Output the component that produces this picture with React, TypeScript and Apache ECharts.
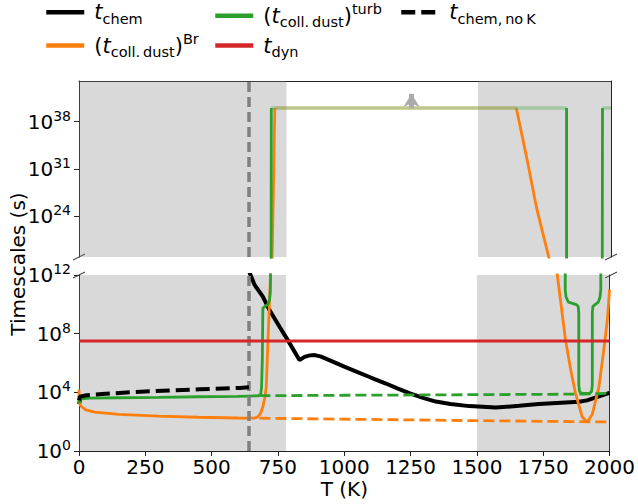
import React, { useEffect, useRef } from 'react';
import * as echarts from 'echarts';

// ---- data (log10 of timescale in seconds vs temperature T in K) ----
const X_MIN = 0;
const X_MAX = 2000;
const X_INTERVAL = 250;
const TOP_RANGE = [18, 44];
const TOP_TICKS = [24, 31, 38];
const BOTTOM_RANGE = [0, 12];
const BOTTOM_INTERVAL = 4;

const SHADE_REGIONS = [[0, 780], [1500, 2000]];
const CONDENSATION_T = 640;
const ARROW_T = 1250;
const ARROW_FROM = 40;
const ARROW_TO = 42.1;

const T_CHEM: (number | string)[][] = [
  [0, 3.2], [5, 3.6], [12, 3.72], [300, '-'],
  [640, 12.3], [662, 11.32], [693, 10.52], [718, 9.61], [756, 8.47], [787, 7.56],
  [831, 6.2], [850, 6.42], [870, 6.52], [888, 6.54], [910, 6.45], [950, 6.15],
  [1000, 5.75], [1050, 5.38], [1100, 5.01], [1157, 4.6], [1200, 4.27], [1245, 3.95],
  [1300, 3.6], [1345, 3.37], [1400, 3.2], [1471, 3.06], [1571, 2.96], [1659, 3.08],
  [1734, 3.2], [1885, 3.36], [1915, 3.45], [1960, 3.72], [2000, 3.96],
];

const T_CHEM_NOK: number[][] = [
  [0, 3.45], [3, 3.7], [29, 3.8], [100, 3.9], [203, 4.02], [455, 4.21], [606, 4.3], [641, 4.34],
];

const T_COLL_BR: (number | string)[][] = [
  [0, 4.2], [0.5, 3.3], [8, 3.05], [25, 2.8], [60, 2.65], [150, 2.5], [300, 2.38],
  [450, 2.3], [600, 2.25], [660, 2.24], [674, 2.32], [684, 2.55], [693, 3.0], [700, 3.6],
  [706, 4.37], [712, 7.34], [718, 10.07], [722, 12], [726, 18], [732, 30], [736, 40],
  [1000, '-'],
  [1644, 40], [1684, 32.5], [1721, 25.1], [1766, 18], [1803, 12], [1834, 7.56],
  [1855, 5.4], [1872, 3.92], [1897, 2.32], [1916, 1.98], [1935, 2.5], [1960, 4.37],
  [1979, 7.0], [1992, 9.0], [2000, 11.0],
];

const T_COLL_BR_CAP: (number | string)[][] = [[736, 40], [1644, 40]];

const T_COLL_TURB: (number | string)[][] = [
  [0, 3.24], [3, 3.45], [10, 3.55], [40, 3.6], [150, 3.63], [300, 3.66], [450, 3.7],
  [600, 3.73], [674, 3.76], [685, 3.85], [688, 4.3], [691, 6.2], [693, 9.73], [700, 9.84],
  [712, 10.0], [718, 10.3], [721, 10.8], [722, 12], [723, 40],
  [1000, '-'],
  [1833, 40], [1833, 11.0], [1836, 10.5], [1845, 10.15], [1875, 9.98], [1882, 9.85],
  [1884, 9.4], [1884, 4.5], [1887, 4.05], [1895, 3.93], [1925, 3.93], [1932, 4.05],
  [1935, 4.5], [1935, 9.4], [1937, 9.85], [1945, 9.98], [1958, 10.15], [1964, 10.5],
  [1967, 11.0], [1968, 40],
];

const T_COLL_TURB_CAP: (number | string)[][] = [[723, 40], [1833, 40], [1900, '-'], [1968, 40], [2000, 40]];

const T_COLL_TURB_DASHED: number[][] = [[680, 3.77], [1000, 3.8], [1500, 3.84], [1900, 3.88], [2000, 3.93]];
const T_COLL_BR_DASHED: number[][] = [[680, 2.24], [900, 2.19], [1500, 2.07], [2000, 1.98]];

const T_DYN: number[][] = [[0, 7.5], [2000, 7.5]];

// ---- styling ----
const FONT = 'DejaVu Sans';
const BLACK = '#000000';
const ORANGE = '#ff7f0e';
const GREEN = '#2ca02c';
const RED = '#d62728';

const LEGEND_LABELS: Record<string, string> = {
  chem: '{tt|t}{sub|chem}',
  br: '{pp|(}{t|t}{sub|coll.\u2009dust}{p|)}{sup|Br}',
  turb: '{pp|(}{t|t}{sub|coll.\u2009dust}{p|)}{sup|turb}',
  dyn: '{tt|t}{sub|dyn}',
  nok: '{tt|t}{sub|chem,\u2009no\u2009K}',
};

const legendRich = {
  t: { fontSize: 21, fontStyle: 'italic', fontFamily: FONT, lineHeight: 28, color: BLACK },
  tt: { fontSize: 21, fontStyle: 'italic', fontFamily: FONT, lineHeight: 28, color: BLACK, padding: [0, 0, 0, 5] },
  p: { fontSize: 21, fontFamily: FONT, lineHeight: 28, color: BLACK },
  pp: { fontSize: 21, fontFamily: FONT, lineHeight: 28, color: BLACK, padding: [0, 0, 0, 5] },
  sub: { fontSize: 14.5, fontFamily: FONT, lineHeight: 16, verticalAlign: 'bottom', color: BLACK },
  sup: { fontSize: 14.5, fontFamily: FONT, lineHeight: 16, verticalAlign: 'top', color: BLACK },
};

const tickRich = {
  b: { fontSize: 20, fontFamily: FONT, lineHeight: 26, color: BLACK },
  s: { fontSize: 14, fontFamily: FONT, lineHeight: 14, verticalAlign: 'top', color: BLACK },
};

function line(name: string, data: any[], color: string, width: number, type: any, grid: number, z: number, opacity = 1) {
  return {
    type: 'line',
    name,
    data,
    xAxisIndex: grid,
    yAxisIndex: grid === 0 ? 0 : 2,
    symbol: 'none',
    showSymbol: false,
    clip: true,
    silent: true,
    z,
    lineStyle: { color, width, type, opacity, cap: 'butt' },
    itemStyle: { color },
    emphasis: { disabled: true },
  };
}

function buildOption() {
  const axisLineStyle = { color: '#222', width: 1 };
  const series: any[] = [];
  for (const g of [0, 1]) {
    const yIdx = g === 0 ? 0 : 2;
    series.push({
      type: 'line',
      name: 'shade' + g,
      data: [],
      xAxisIndex: g,
      yAxisIndex: yIdx,
      silent: true,
      z: 1,
      markArea: {
        silent: true,
        itemStyle: { color: 'rgba(128,128,128,0.3)' },
        data: SHADE_REGIONS.map(([a, b]) => [{ xAxis: a }, { xAxis: b }]),
      },
      markLine: {
        silent: true,
        symbol: 'none',
        label: { show: false },
        lineStyle: { color: '#808080', width: 3.5, type: [10, 5] },
        data: [{ xAxis: CONDENSATION_T }],
      },
    });
    series.push(line('chem', T_CHEM, BLACK, 4, 'solid', g, 2));
    series.push(line('br', T_COLL_BR, ORANGE, 2.8, 'solid', g, 3));
    series.push(line('brcap' + g, T_COLL_BR_CAP, ORANGE, 3.5, 'solid', g, 3, 0.3));
    series.push(line('turb', T_COLL_TURB, GREEN, 2.8, 'solid', g, 4));
    series.push(line('turbcap' + g, T_COLL_TURB_CAP, GREEN, 3.5, 'solid', g, 4, 0.3));
    series.push(line('dyn', T_DYN, RED, 2.8, 'solid', g, 5));
    series.push(line('nok', T_CHEM_NOK, BLACK, 4, [14, 6], g, 6));
    series.push(line('turbd' + g, T_COLL_TURB_DASHED, GREEN, 2.8, [11, 5], g, 6));
    series.push(line('brd' + g, T_COLL_BR_DASHED, ORANGE, 2.8, [11, 5], g, 6));
  }
  series.push({
    type: 'line',
    name: 'arrow',
    data: [],
    xAxisIndex: 0,
    yAxisIndex: 0,
    silent: true,
    z: 7,
    markLine: {
      silent: true,
      symbol: ['none', 'arrow'],
      symbolSize: [12, 13],
      label: { show: false },
      lineStyle: { color: '#ababab', width: 5, type: 'solid', opacity: 1 },
      itemStyle: { color: '#ababab' },
      data: [[{ coord: [ARROW_T, ARROW_FROM] }, { coord: [ARROW_T, ARROW_TO] }]],
    },
  });

  const legendBase = {
    orient: 'vertical',
    padding: 0,
    itemGap: 5.3,
    itemWidth: 38,
    itemHeight: 14,
    top: 1.7,
    selectedMode: false,
    lineStyle: { width: 4.5 },
    itemStyle: { color: 'rgba(0,0,0,0)', borderWidth: 0, opacity: 0 },
    formatter: (n: string) => LEGEND_LABELS[n] || n,
    textStyle: { rich: legendRich },
  };

  const yLabel = (v: number) => `{b|10}{s|${v}}`;

  return {
    animation: false,
    backgroundColor: '#ffffff',
    grid: [
      { left: 79, right: 27, top: 81, height: 176 },
      { left: 79, right: 27, top: 275, height: 176 },
    ],
    legend: [
      { ...legendBase, left: 44, data: ['chem', 'br'] },
      { ...legendBase, left: 213, data: ['turb', 'dyn'] },
      { ...legendBase, left: 399, data: ['nok'] },
    ],
    xAxis: [
      {
        gridIndex: 0, type: 'value', min: X_MIN, max: X_MAX, position: 'top',
        axisLine: { show: true, onZero: false, lineStyle: axisLineStyle },
        axisTick: { show: false }, axisLabel: { show: false }, splitLine: { show: false },
      },
      {
        gridIndex: 1, type: 'value', min: X_MIN, max: X_MAX, interval: X_INTERVAL, position: 'bottom',
        name: 'T (K)', nameLocation: 'middle', nameGap: 28,
        nameTextStyle: { fontSize: 20, fontFamily: FONT, color: BLACK, lineHeight: 20 },
        axisLine: { show: true, onZero: false, lineStyle: axisLineStyle },
        axisTick: { show: true, length: 5, lineStyle: axisLineStyle },
        axisLabel: { fontSize: 20, fontFamily: FONT, color: BLACK, margin: 6, lineHeight: 20, formatter: (v: number) => String(v) },
        splitLine: { show: false },
      },
    ],
    yAxis: [
      {
        gridIndex: 0, type: 'value', min: TOP_RANGE[0], max: TOP_RANGE[1], position: 'left',
        axisLine: { show: true, onZero: false, lineStyle: axisLineStyle },
        axisTick: { show: true, length: 5, lineStyle: axisLineStyle, customValues: TOP_TICKS },
        axisLabel: { customValues: TOP_TICKS, formatter: yLabel, rich: tickRich, margin: 8 },
        splitLine: { show: false },
      },
      {
        gridIndex: 0, type: 'value', min: TOP_RANGE[0], max: TOP_RANGE[1], position: 'right',
        axisLine: { show: true, onZero: false, lineStyle: axisLineStyle },
        axisTick: { show: false }, axisLabel: { show: false }, splitLine: { show: false },
      },
      {
        gridIndex: 1, type: 'value', min: BOTTOM_RANGE[0], max: BOTTOM_RANGE[1], interval: BOTTOM_INTERVAL, position: 'left',
        axisLine: { show: true, onZero: false, lineStyle: axisLineStyle },
        axisTick: { show: true, length: 5, lineStyle: axisLineStyle },
        axisLabel: { formatter: yLabel, rich: tickRich, margin: 8 },
        splitLine: { show: false },
      },
      {
        gridIndex: 1, type: 'value', min: BOTTOM_RANGE[0], max: BOTTOM_RANGE[1], position: 'right',
        axisLine: { show: true, onZero: false, lineStyle: axisLineStyle },
        axisTick: { show: false }, axisLabel: { show: false }, splitLine: { show: false },
      },
    ],
    graphic: [
      {
        type: 'text', x: 18, y: 264, rotation: Math.PI / 2, silent: true,
        style: { text: 'Timescales (s)', fontSize: 20, fontFamily: FONT, fill: BLACK, align: 'center', verticalAlign: 'middle' },
      },
      { type: 'line', silent: true, shape: { x1: 73, y1: 260, x2: 85, y2: 254 }, style: { stroke: '#222', lineWidth: 1 } },
      { type: 'line', silent: true, shape: { x1: 73, y1: 278, x2: 85, y2: 272 }, style: { stroke: '#222', lineWidth: 1 } },
      { type: 'line', silent: true, shape: { x1: 605, y1: 260, x2: 617, y2: 254 }, style: { stroke: '#222', lineWidth: 1 } },
      { type: 'line', silent: true, shape: { x1: 605, y1: 278, x2: 617, y2: 272 }, style: { stroke: '#222', lineWidth: 1 } },
    ],
    series,
  };
}

export default function App() {
  const ref = useRef<HTMLDivElement>(null);
  useEffect(() => {
    if (!ref.current) return;
    const chart = echarts.init(ref.current, null, { renderer: 'svg' });
    chart.setOption(buildOption() as any);
    return () => chart.dispose();
  }, []);
  return <div ref={ref} style={{ position: 'absolute', left: 0, top: 0, width: 638, height: 504 }} />;
}
